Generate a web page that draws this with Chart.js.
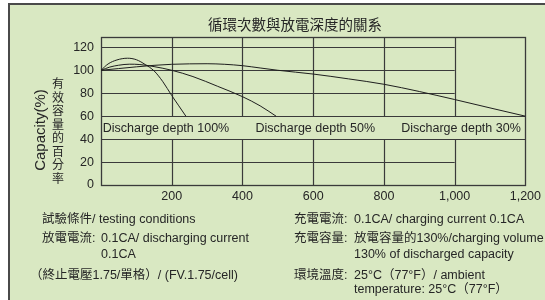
<!DOCTYPE html>
<html>
<head>
<meta charset="utf-8">
<script src="https://cdn.jsdelivr.net/npm/chart.js@4/dist/chart.umd.min.js"></script>
<style>
  html, body { margin: 0; padding: 0; background: #ffffff; }
  #wrap { width: 545px; height: 300px; position: relative; }
</style>
</head>
<body>
<div id="wrap"><canvas id="c" width="545" height="300"></canvas></div>
<script>
// ---- data ----
const xTicks = [0, 200, 400, 600, 800, 1000, 1200];
const yTicks = [0, 20, 40, 60, 80, 100, 120];

const depth100Cycles = [0, 20, 45, 75, 100, 125, 150, 175, 200, 220, 240];
const depth100Cap    = [100, 105.5, 109, 110.5, 109.2, 105, 99.5, 90, 78, 69, 60];

const depth50Cycles = [0, 25, 50, 80, 110, 150, 200, 260, 330, 400, 450, 495];
const depth50Cap    = [100, 102.8, 104.4, 105.3, 105, 103.2, 100, 94.5, 86, 77, 69, 60];

const depth30Cycles = [0, 50, 100, 150, 200, 250, 300, 350, 400, 450, 500, 600, 700, 800, 900, 1000, 1100, 1200];
const depth30Cap    = [100, 101.5, 103, 104.3, 105.2, 105.6, 105.7, 105.2, 104, 102, 100, 96.7, 92.5, 87.8, 81.5, 74.5, 67.2, 60];

const bandLabels = ['Discharge depth 100%', 'Discharge depth 50%', 'Discharge depth 30%'];
const titleText = '循環次數與放電深度的關系';
const yTitleEn = 'Capacity(%)';
const yTitleZh = '有效容量的百分率';

const condLeft = [
  ['試驗條件/ testing conditions', ''],
  ['放電電流:', '0.1CA/ discharging current'],
  ['', '0.1CA'],
  ['（終止電壓1.75/單格）/ (FV.1.75/cell)', '']
];
const condRight = [
  ['充電電流:', '0.1CA/ charging current 0.1CA'],
  ['充電容量:', '放電容量的130%/charging volume'],
  ['', '130% of discharged capacity'],
  ['環境溫度:', '25°C（77°F）/ ambient'],
  ['', 'temperature: 25°C（77°F）']
];

// ---- layout / style constants ----
const BG = '#d9e8c2';
const INK = '#262626';
const GRID = '#3a3a3a';
const FONT_LATIN = '"Liberation Sans", Arial, "Noto Sans CJK TC", sans-serif';
const FONT_CJK = '"Noto Sans CJK TC", "Liberation Sans", sans-serif';
const bandLabelAnchor = [5, 437, 849];   // x value where each band label starts
const gridStop = 1000;                    // inner grid ends at this x
const bandLow = 40, bandHigh = 60;

function pts(xs, ys) { return xs.map((x, i) => ({ x: x, y: ys[i] })); }

const bgPlugin = {
  id: 'bg',
  beforeDraw(chart) {
    const c = chart.ctx;
    c.save();
    c.fillStyle = '#ffffff';
    c.fillRect(0, 0, chart.width, chart.height);
    c.fillStyle = BG;
    c.fillRect(8, 3, chart.width - 8, chart.height - 3);
    c.strokeStyle = '#4a4a4a';
    c.lineWidth = 2;
    c.beginPath();
    c.moveTo(9, chart.height);
    c.lineTo(9, 4);
    c.lineTo(chart.width, 4);
    c.stroke();
    c.restore();
  }
};

const gridPlugin = {
  id: 'customGrid',
  beforeDatasetsDraw(chart) {
    const c = chart.ctx, xs = chart.scales.x, ys = chart.scales.y, a = chart.chartArea;
    const crisp = v => Math.round(v) + 0.5;
    c.save();
    c.strokeStyle = GRID;
    c.lineWidth = 1.2;
    const xStop = xs.getPixelForValue(gridStop);
    const yLow = ys.getPixelForValue(bandLow), yHigh = ys.getPixelForValue(bandHigh);
    c.beginPath();
    yTicks.forEach(v => {
      if (v === 0) return;
      const y = crisp(ys.getPixelForValue(v));
      const full = (v === bandLow || v === bandHigh);
      c.moveTo(a.left, y);
      c.lineTo(full ? a.right : xStop, y);
    });
    xTicks.forEach(v => {
      if (v === 0 || v === 1200) return;
      const x = crisp(xs.getPixelForValue(v));
      c.moveTo(x, a.top);
      c.lineTo(x, yHigh);
      c.moveTo(x, yLow);
      c.lineTo(x, a.bottom);
    });
    c.stroke();
    c.lineWidth = 1.3;
    c.strokeRect(crisp(a.left), crisp(a.top), Math.round(a.right) - Math.round(a.left), Math.round(a.bottom) - Math.round(a.top));
    c.restore();
  }
};

const textPlugin = {
  id: 'texts',
  afterDraw(chart) {
    const c = chart.ctx, xs = chart.scales.x, ys = chart.scales.y;
    c.save();
    c.fillStyle = INK;
    // title
    c.font = '14.5px ' + FONT_CJK;
    c.textAlign = 'center';
    c.textBaseline = 'middle';
    c.fillText(titleText, 295, 24);
    // band labels
    c.font = '12.5px ' + FONT_LATIN;
    c.textAlign = 'left';
    const bandY = (ys.getPixelForValue(bandLow) + ys.getPixelForValue(bandHigh)) / 2 + 1;
    bandLabels.forEach((t, i) => c.fillText(t, xs.getPixelForValue(bandLabelAnchor[i]), bandY));
    // y titles
    c.save();
    c.translate(41, 130);
    c.rotate(-Math.PI / 2);
    c.font = '15px ' + FONT_LATIN;
    c.textAlign = 'center';
    c.fillText(yTitleEn, 0, 0);
    c.restore();
    c.font = '12px ' + FONT_CJK;
    c.textAlign = 'center';
    [...yTitleZh].forEach((ch, i) => c.fillText(ch, 58, 83.5 + i * 13.5));
    // conditions
    const rows = [220, 238.3, 255, 276, 290];
    c.font = '12.5px ' + FONT_LATIN;
    c.textAlign = 'left';
    condLeft.forEach((r, i) => {
      if (r[0]) c.fillText(r[0], r[0].startsWith('（') ? 30 : 42, rows[i]);
      if (r[1]) c.fillText(r[1], 101, rows[i]);
    });
    condRight.forEach((r, i) => {
      if (r[0]) c.fillText(r[0], 294, rows[i]);
      if (r[1]) c.fillText(r[1], 354, rows[i]);
    });
    c.restore();
  }
};

const lineStyle = { borderColor: '#1e1e1e', borderWidth: 1, pointRadius: 0, showLine: true, fill: false, tension: 0.4, cubicInterpolationMode: 'monotone' };

new Chart(document.getElementById('c'), {
  type: 'scatter',
  data: {
    datasets: [
      Object.assign({ label: bandLabels[0], data: pts(depth100Cycles, depth100Cap) }, lineStyle),
      Object.assign({ label: bandLabels[1], data: pts(depth50Cycles, depth50Cap) }, lineStyle),
      Object.assign({ label: bandLabels[2], data: pts(depth30Cycles, depth30Cap) }, lineStyle)
    ]
  },
  options: {
    responsive: false,
    animation: false,
    layout: { padding: { left: 0, right: 17, top: 37, bottom: 0 } },
    plugins: { legend: { display: false }, tooltip: { enabled: false }, title: { display: false } },
    scales: {
      x: {
        type: 'linear', min: 0, max: 1200,
        grid: { display: false, drawTicks: false },
        border: { display: false },
        afterBuildTicks: s => { s.ticks = xTicks.filter(v => v > 0).map(v => ({ value: v })); },
        afterFit: s => { s.height = 115; },
        ticks: {
          color: INK, padding: 4, maxRotation: 0, autoSkip: false,
          font: { family: FONT_LATIN, size: 12.5 },
          callback: v => v.toLocaleString('en-US')
        }
      },
      y: {
        type: 'linear', min: 0, max: 129,
        grid: { display: false, drawTicks: false },
        border: { display: false },
        afterBuildTicks: s => { s.ticks = yTicks.map(v => ({ value: v })); },
        afterFit: s => { s.width = 101; },
        ticks: {
          color: INK, padding: 7, autoSkip: false,
          font: { family: FONT_LATIN, size: 12.5 }
        }
      }
    }
  },
  plugins: [bgPlugin, gridPlugin, textPlugin]
});
</script>
</body>
</html>
